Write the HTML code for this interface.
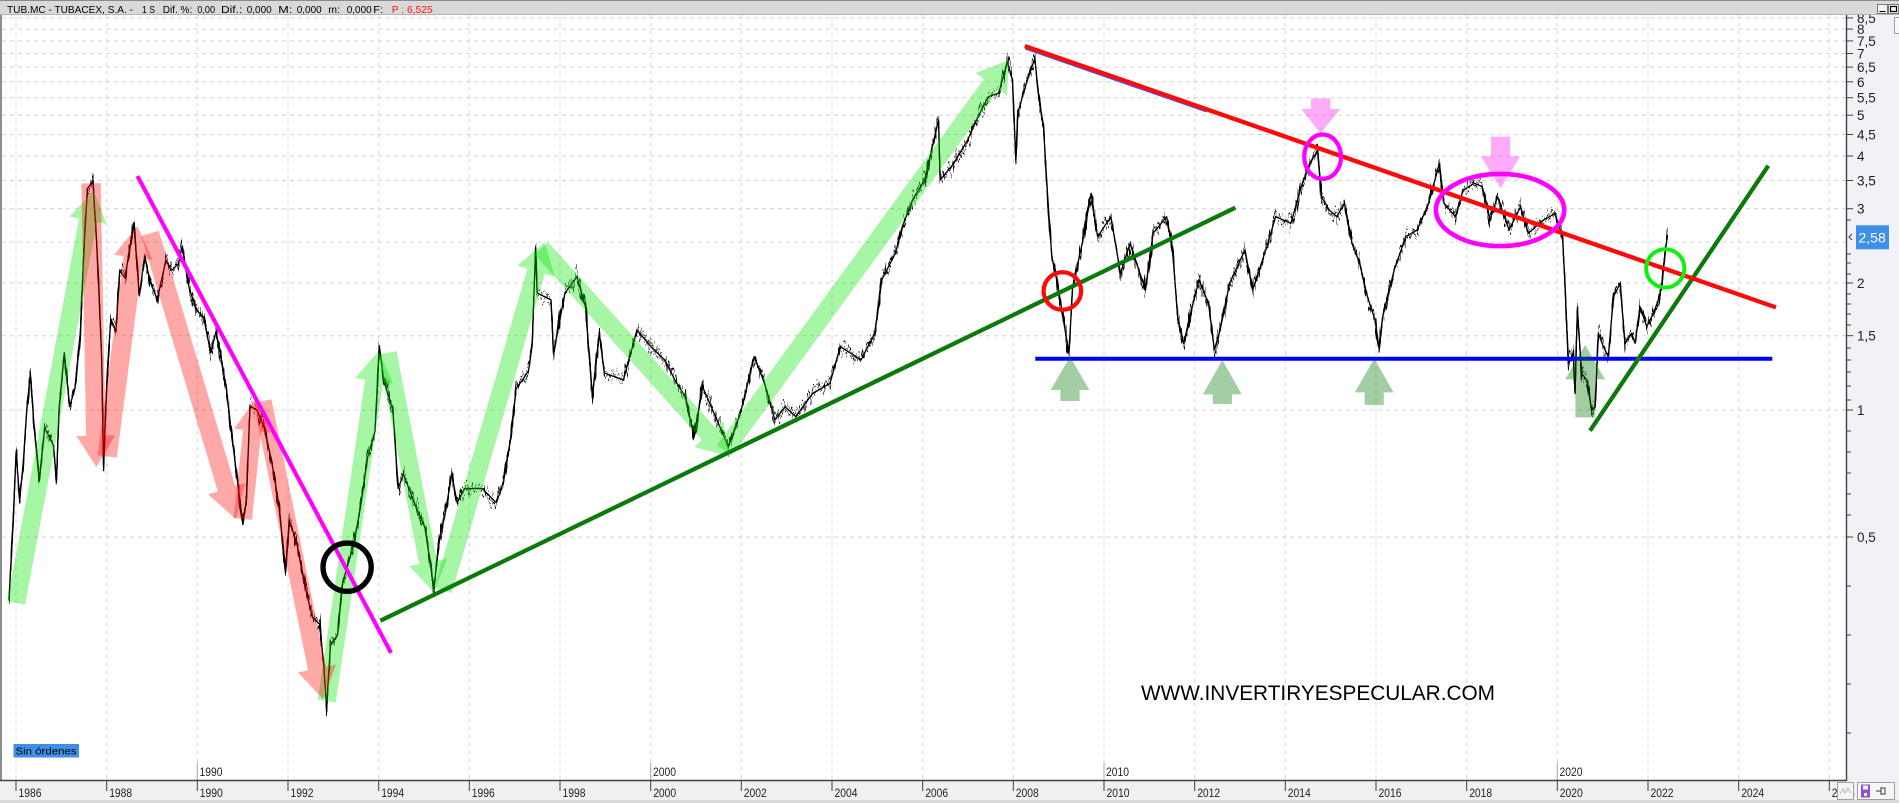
<!DOCTYPE html>
<html><head><meta charset="utf-8"><style>
html,body{margin:0;padding:0;width:1899px;height:803px;overflow:hidden;background:#fff}
svg{display:block}
</style></head><body>
<svg id="root" width="1899" height="803" viewBox="0 0 1899 803" xmlns="http://www.w3.org/2000/svg" xmlns:xlink="http://www.w3.org/1999/xlink" font-family="'Liberation Sans', Arial, sans-serif">
<defs>
<filter id="j1" filterUnits="userSpaceOnUse" x="-10" y="-10" width="1620" height="720" color-interpolation-filters="sRGB">
<feTurbulence type="fractalNoise" baseFrequency="0.45 0.03" numOctaves="2" seed="3" result="n"/>
<feColorMatrix in="n" type="matrix" values="1 0 0 0 0  0 0 0 0 0.5  0 0 0 0 0  0 0 0 0 1" result="m"/>
<feDisplacementMap in="SourceGraphic" in2="m" scale="30" xChannelSelector="G" yChannelSelector="R"/>
</filter>
<filter id="j2" filterUnits="userSpaceOnUse" x="-10" y="-10" width="1620" height="720" color-interpolation-filters="sRGB">
<feTurbulence type="fractalNoise" baseFrequency="0.8 0.05" numOctaves="2" seed="11" result="n"/>
<feColorMatrix in="n" type="matrix" values="1 0 0 0 0  0 0 0 0 0.5  0 0 0 0 0  0 0 0 0 1" result="m"/>
<feDisplacementMap in="SourceGraphic" in2="m" scale="24" xChannelSelector="G" yChannelSelector="R"/>
</filter>
</defs>
<rect x="0" y="0" width="1899" height="803" fill="#ffffff"/>
<rect x="1846" y="14" width="53" height="767" fill="#f1f2f6"/>
<g stroke="#d4d4d4" stroke-width="1" stroke-dasharray="4,4" fill="none">
<line x1="16" y1="15" x2="16" y2="780"/><line x1="106.7" y1="15" x2="106.7" y2="780"/><line x1="197.3" y1="15" x2="197.3" y2="780"/><line x1="288" y1="15" x2="288" y2="780"/><line x1="378.7" y1="15" x2="378.7" y2="780"/><line x1="469.3" y1="15" x2="469.3" y2="780"/><line x1="560" y1="15" x2="560" y2="780"/><line x1="650.7" y1="15" x2="650.7" y2="780"/><line x1="741.3" y1="15" x2="741.3" y2="780"/><line x1="832" y1="15" x2="832" y2="780"/><line x1="922.7" y1="15" x2="922.7" y2="780"/><line x1="1013.3" y1="15" x2="1013.3" y2="780"/><line x1="1104" y1="15" x2="1104" y2="780"/><line x1="1194.7" y1="15" x2="1194.7" y2="780"/><line x1="1285.3" y1="15" x2="1285.3" y2="780"/><line x1="1376" y1="15" x2="1376" y2="780"/><line x1="1466.7" y1="15" x2="1466.7" y2="780"/><line x1="1557.3" y1="15" x2="1557.3" y2="780"/><line x1="1648" y1="15" x2="1648" y2="780"/><line x1="1738.7" y1="15" x2="1738.7" y2="780"/><line x1="1829.3" y1="15" x2="1829.3" y2="780"/>
<line x1="2" y1="17.9" x2="1846" y2="17.9"/><line x1="2" y1="29.1" x2="1846" y2="29.1"/><line x1="2" y1="40.9" x2="1846" y2="40.9"/><line x1="2" y1="53.5" x2="1846" y2="53.5"/><line x1="2" y1="67.1" x2="1846" y2="67.1"/><line x1="2" y1="81.8" x2="1846" y2="81.8"/><line x1="2" y1="97.7" x2="1846" y2="97.7"/><line x1="2" y1="115.2" x2="1846" y2="115.2"/><line x1="2" y1="134.5" x2="1846" y2="134.5"/><line x1="2" y1="156" x2="1846" y2="156"/><line x1="2" y1="180.5" x2="1846" y2="180.5"/><line x1="2" y1="208.7" x2="1846" y2="208.7"/><line x1="2" y1="242.1" x2="1846" y2="242.1"/><line x1="2" y1="283" x2="1846" y2="283"/><line x1="2" y1="335.7" x2="1846" y2="335.7"/><line x1="2" y1="410" x2="1846" y2="410"/><line x1="2" y1="537" x2="1846" y2="537"/>
</g>
<g stroke="#a8a8a8" stroke-width="1">
<line x1="197.3" y1="763" x2="197.3" y2="780"/><line x1="650.7" y1="763" x2="650.7" y2="780"/><line x1="1104" y1="763" x2="1104" y2="780"/><line x1="1557.3" y1="763" x2="1557.3" y2="780"/>
</g>
<g font-size="11.5" fill="#222">
<text x="199.5" y="776" textLength="23" lengthAdjust="spacingAndGlyphs">1990</text>
<text x="653" y="776" textLength="23" lengthAdjust="spacingAndGlyphs">2000</text>
<text x="1106" y="776" textLength="23" lengthAdjust="spacingAndGlyphs">2010</text>
<text x="1559.5" y="776" textLength="23" lengthAdjust="spacingAndGlyphs">2020</text>
</g>

<g transform="scale(1.21110)">
<g fill="none" stroke="#000" stroke-width="1.1" stroke-linejoin="round">
<polyline id="pl" points="7.4,494.8 10.3,441.7 13.3,373.9 16.2,412.3 19.2,382.8 22.1,338.5 25.1,309 28,350.3 32.4,397.5 36.9,353.3 44.2,368 46.6,397.5 48.7,338.5 53.1,291.3 57.5,335.6 61.9,320.8 66.4,273.6 69.3,205.8 72.2,155.7 76.7,149.8 79,185.2 81.1,226.5 84,297.2 85.5,385.7 88.5,309 91.4,264.8 95.8,273.6 98.8,223.5 103.2,229.4 110.6,183.7 115,244.2 119.4,211.7 123.9,232.4 129.8,247.1 137.1,214.7 141.5,223.5 147.4,217.6 150.4,202.9 156.3,238.3 162.2,256 168.1,261.9 174,291.3 178.4,273.6 182.8,297.2 187.3,323.8 190.2,350.3 193.2,373.9 196.1,397.5 200.5,432.9 203.5,412.3 206.4,335.6 212.3,338.5 218.2,353.3 224.1,379.8 230,415.2 235.9,471.2 238.9,430 244.8,447.6 250.7,477.1 253.6,491.9 258,509.6 263.9,515.5 266.9,545 269.8,583.3 272.8,533.2 278.7,524.3 283.1,480 291.9,450.6 297.8,418.1 303.7,376.9 309.6,356.2 313.2,285.4 317,315 324.4,338.5 328.8,403.4 333.2,391.6 342.1,415.2 350.9,435.8 358.3,486 362.7,444.7 367.1,427 373,391.6 377.5,415.2 383.4,403.4 398.1,403.4 409.9,415.2 415.8,397.5 421.7,362.1 426.1,320.8 430.5,315 436.4,306.1 439.4,285.4 442.2,205 443.6,242 455,247.7 457,291.7 466.4,242.2 476.3,228.4 483.4,253.2 489.1,327.5 494.8,275.2 499,308 514.7,313.8 526,272.5 537.4,286.2 548.8,297.2 557.3,313.8 565.9,327.5 573,360.5 580.1,319.3 594.3,352.3 601.4,368.8 611.4,341.3 622.7,294.5 631.3,316.5 639.8,346.8 648.3,335.8 656.9,344 671.1,324.8 685.3,316.5 693.8,286.2 710.9,297.2 722.3,275.2 728,231.2 739.3,209.2 745,187.1 753.5,165.1 763.5,148.6 774.9,99.1 776.3,148.6 787.6,134.8 799,115.6 807.6,96.3 816.1,79.8 824.6,77 831.7,50.9 836,66 838.8,132.1 840.3,93.6 847.4,68.8 854.5,48.1 857.3,77 861.6,104.6 865.5,170 868.5,212 873.1,234 882.6,291.8 885.7,236.7 893.6,201 900.9,159.6 906.3,195.4 917.3,179 925.2,225.7 933.1,201 945.8,239.5 952.1,192.7 963.2,178.9 967.9,203.7 972.6,264.2 977.4,283.5 983.7,256 990,231.2 997.9,250.5 1002.7,289 1007.4,272.5 1015.3,234 1027.9,206.4 1034.3,239.5 1046.9,201 1053.2,178.9 1065.9,184.4 1075.3,151.4 1081.7,134.9 1088,123.9 1091.1,162.4 1097.5,173.4 1103.8,178.9 1110.1,167.9 1116.4,201 1122.7,217.5 1129.1,245 1135.4,264.2 1138.5,286.3 1141.7,261.5 1151.2,223 1160.7,195.4 1170.1,189.9 1179.6,167.9 1188.5,134.9 1192.3,167.9 1201.8,178.9 1208.1,156.9 1217.5,151.4 1223.9,154.1 1230.2,181.7 1236.5,162.4 1246,189.9 1255.5,170.7 1261.8,192.7 1274.4,181.7 1283.9,176.2 1290.2,195.4 1292.3,236.7 1293.6,269.7 1295,300 1299.1,291.8 1300.5,324.8 1302.4,256 1306,308.3 1310.2,313.8 1314.3,338.6 1317,335.8 1319.8,275.2 1323.9,286.3 1328,294.5 1332.2,245 1337.7,234 1341.8,283.5 1347.3,275.2 1350.1,283.5 1354.2,253.3 1359.7,269.7 1365.2,258.7 1369.3,247.7 1372.1,236.7 1374.8,209.2 1376.8,194"/>
</g>
<use href="#pl" xlink:href="#pl" fill="none" stroke="#000" stroke-width="0.9" filter="url(#j1)"/>
<use href="#pl" xlink:href="#pl" fill="none" stroke="#000" stroke-width="0.9" filter="url(#j2)"/>

<line x1="854.8" y1="296.2" x2="1463.4" y2="296.2" stroke="#0000ff" stroke-width="3.3"/>
<line x1="846.5" y1="40.4" x2="996" y2="92.4" stroke="#3050ff" stroke-width="0.9"/>

<g fill="rgb(0,230,0)" fill-opacity="0.35">
<polygon points="20.7,499.2 80.1,183.2 87.9,184.7 77.3,157.2 57.5,178.9 65.3,180.4 5.9,496.4"/>
<polygon points="277.2,580 316.3,315.7 324.7,316.9 312.6,289.9 293.1,312.3 301.5,313.5 262.4,577.8"/>
<polygon points="312.6,292.7 346.1,465.8 337.8,467.4 358.3,488.9 369.2,461.4 360.9,463 327.4,289.9"/>
<polygon points="372.9,489.6 449.9,226 458.1,228.4 449.7,199.9 427.3,219.4 435.5,221.8 358.5,485.4"/>
<polygon points="441.4,210 579.7,363.4 573.4,369.1 602,377 597.2,347.7 590.9,353.4 452.6,200"/>
<polygon points="604.1,376.4 824.6,74.1 831.4,79.1 833.2,49.5 805.6,60.3 812.4,65.3 591.9,367.6"/>
</g>
<g fill="rgb(255,0,0)" fill-opacity="0.34">
<polygon points="67.2,151.5 71.1,359.9 63.1,360 79.6,385.7 95.1,359.4 87.1,359.6 83.2,151.2"/>
<polygon points="96.4,377.9 118,213.5 126,214.6 113.5,186.7 94.2,210.4 102.2,211.5 80.6,375.9"/>
<polygon points="116.7,194.8 179.9,405.8 171.8,408.2 194.6,428.5 202.4,399 194.3,401.5 131.1,190.5"/>
<polygon points="208,429.3 215.7,356.4 223.1,357.2 210.9,329.7 193.3,354 200.7,354.8 193,427.7"/>
<polygon points="209.4,332.7 254.4,553.5 246,555.2 266.9,577.4 277.4,548.8 269.1,550.5 224.1,329.7"/>
</g>
<g fill="rgb(0,120,0)" fill-opacity="0.36">
<polygon points="875.6,331.1 875.6,322 867.5,322 883.5,294.5 899.5,322 891.4,322 891.4,331.1"/>
<polygon points="1001.4,333.6 1001.4,325.6 993.3,325.6 1009.3,297.3 1025.3,325.6 1017.2,325.6 1017.2,333.6"/>
<polygon points="1126.8,334.4 1126.8,324 1118.7,324 1134.7,296 1150.7,324 1142.6,324 1142.6,334.4"/>
<polygon points="1300.8,344.6 1300.8,313.2 1292.4,313.2 1308.9,284.9 1325.4,313.2 1317,313.2 1317,344.6"/>
</g>
<g fill="rgb(255,0,240)" fill-opacity="0.33">
<polygon points="1082.6,81.2 1082.6,90 1074.3,90 1090.5,110 1106.7,90 1098.4,90 1098.4,81.2"/>
<polygon points="1231.1,112.9 1231.1,129 1222.8,129 1239,155.5 1255.2,129 1246.9,129 1246.9,112.9"/>
</g>

<line x1="113.5" y1="145.4" x2="322.9" y2="539.1" stroke="#ff00ff" stroke-width="3.4"/>
<line x1="314.1" y1="512.5" x2="1020" y2="171.5" stroke="#0b7a0b" stroke-width="3.5"/>
<line x1="1312.9" y1="355.6" x2="1460.1" y2="136.8" stroke="#0b7a0b" stroke-width="3.5"/>
<line x1="846.2" y1="38" x2="1466.4" y2="253.8" stroke="#ff0a0a" stroke-width="3.6"/>

<g fill="none">
<circle cx="286.6" cy="468.3" r="19.9" stroke="#000" stroke-width="4.4"/>
<circle cx="877.2" cy="240.3" r="15.5" stroke="#ff0a0a" stroke-width="3.5"/>
<ellipse cx="1092.1" cy="129.4" rx="15.2" ry="18.3" stroke="#ff00ff" stroke-width="3.5"/>
<ellipse cx="1238.6" cy="173.4" rx="53" ry="29.8" stroke="#ff00ff" stroke-width="3.8"/>
<circle cx="1375" cy="221.6" r="15.8" stroke="#12ee12" stroke-width="3.3"/>
</g>
</g>

<text x="1141" y="700" font-size="20.8" fill="#000" textLength="354" lengthAdjust="spacingAndGlyphs">WWW.INVERTIRYESPECULAR.COM</text>

<rect x="13.5" y="744" width="65.5" height="13.5" fill="#3d8fe8"/>
<text x="15.5" y="754.5" font-size="10" fill="#000" textLength="61" lengthAdjust="spacingAndGlyphs">Sin órdenes</text>

<rect x="0" y="14" width="2" height="767" fill="#8c8c8c"/>

<line x1="1846.5" y1="14" x2="1846.5" y2="781" stroke="#404040" stroke-width="1.4"/>
<g stroke="#404040" stroke-width="1">
<line x1="1846" y1="17.9" x2="1853" y2="17.9"/><line x1="1846" y1="29.1" x2="1853" y2="29.1"/><line x1="1846" y1="40.9" x2="1853" y2="40.9"/><line x1="1846" y1="53.5" x2="1853" y2="53.5"/><line x1="1846" y1="67.1" x2="1853" y2="67.1"/><line x1="1846" y1="81.8" x2="1853" y2="81.8"/><line x1="1846" y1="97.7" x2="1853" y2="97.7"/><line x1="1846" y1="115.2" x2="1853" y2="115.2"/><line x1="1846" y1="134.5" x2="1853" y2="134.5"/><line x1="1846" y1="156" x2="1853" y2="156"/><line x1="1846" y1="180.5" x2="1853" y2="180.5"/><line x1="1846" y1="208.7" x2="1853" y2="208.7"/><line x1="1846" y1="283" x2="1853" y2="283"/><line x1="1846" y1="335.7" x2="1853" y2="335.7"/><line x1="1846" y1="410" x2="1853" y2="410"/><line x1="1846" y1="537" x2="1853" y2="537"/>
<line x1="1846" y1="220" x2="1851" y2="220"/><line x1="1846" y1="254" x2="1851" y2="254"/><line x1="1846" y1="263" x2="1851" y2="263"/><line x1="1846" y1="274" x2="1851" y2="274"/><line x1="1846" y1="294" x2="1851" y2="294"/><line x1="1846" y1="304" x2="1851" y2="304"/><line x1="1846" y1="314" x2="1851" y2="314"/><line x1="1846" y1="325" x2="1851" y2="325"/><line x1="1846" y1="348" x2="1851" y2="348"/><line x1="1846" y1="360" x2="1851" y2="360"/><line x1="1846" y1="372" x2="1851" y2="372"/><line x1="1846" y1="386" x2="1851" y2="386"/><line x1="1846" y1="400" x2="1851" y2="400"/><line x1="1846" y1="431" x2="1851" y2="431"/><line x1="1846" y1="452" x2="1851" y2="452"/><line x1="1846" y1="473" x2="1851" y2="473"/><line x1="1846" y1="494" x2="1851" y2="494"/><line x1="1846" y1="515" x2="1851" y2="515"/><line x1="1846" y1="586" x2="1851" y2="586"/><line x1="1846" y1="635" x2="1851" y2="635"/><line x1="1846" y1="684" x2="1851" y2="684"/><line x1="1846" y1="733" x2="1851" y2="733"/>
</g>
<g font-size="13.5" fill="#1c1c2c">
<text x="1857" y="22.9">8,5</text><text x="1857" y="34.1">8</text><text x="1857" y="45.9">7,5</text><text x="1857" y="58.5">7</text><text x="1857" y="72.1">6,5</text><text x="1857" y="86.8">6</text><text x="1857" y="102.7">5,5</text><text x="1857" y="120.2">5</text><text x="1857" y="139.5">4,5</text><text x="1857" y="161">4</text><text x="1857" y="185.5">3,5</text><text x="1857" y="213.7">3</text><text x="1857" y="288">2</text><text x="1857" y="340.7">1,5</text><text x="1857" y="415">1</text><text x="1857" y="542">0,5</text>
</g>
<path d="M1852,234 L1849,237 L1852,240" fill="none" stroke="#404040" stroke-width="1"/>
<rect x="1856" y="225.3" width="33" height="24" fill="#3d8fe8"/>
<text x="1858.5" y="242.5" font-size="14" fill="#ffffff">2,58</text>

<rect x="0" y="781" width="1899" height="19" fill="#f0f0f0"/>
<rect x="0" y="800" width="1899" height="3" fill="#d9d9d9"/>
<line x1="0" y1="780.5" x2="1846" y2="780.5" stroke="#404040" stroke-width="1.6"/>
<g stroke="#404040" stroke-width="1">
<line x1="16" y1="780" x2="16" y2="791"/><line x1="106.7" y1="780" x2="106.7" y2="791"/><line x1="197.3" y1="780" x2="197.3" y2="791"/><line x1="288" y1="780" x2="288" y2="791"/><line x1="378.7" y1="780" x2="378.7" y2="791"/><line x1="469.3" y1="780" x2="469.3" y2="791"/><line x1="560" y1="780" x2="560" y2="791"/><line x1="650.7" y1="780" x2="650.7" y2="791"/><line x1="741.3" y1="780" x2="741.3" y2="791"/><line x1="832" y1="780" x2="832" y2="791"/><line x1="922.7" y1="780" x2="922.7" y2="791"/><line x1="1013.3" y1="780" x2="1013.3" y2="791"/><line x1="1104" y1="780" x2="1104" y2="791"/><line x1="1194.7" y1="780" x2="1194.7" y2="791"/><line x1="1285.3" y1="780" x2="1285.3" y2="791"/><line x1="1376" y1="780" x2="1376" y2="791"/><line x1="1466.7" y1="780" x2="1466.7" y2="791"/><line x1="1557.3" y1="780" x2="1557.3" y2="791"/><line x1="1648" y1="780" x2="1648" y2="791"/><line x1="1738.7" y1="780" x2="1738.7" y2="791"/><line x1="1829.3" y1="780" x2="1829.3" y2="791"/>
</g>
<g font-size="11.5" fill="#222">
<text x="18.5" y="797" textLength="23" lengthAdjust="spacingAndGlyphs">1986</text>
<text x="109.2" y="797" textLength="23" lengthAdjust="spacingAndGlyphs">1988</text>
<text x="199.8" y="797" textLength="23" lengthAdjust="spacingAndGlyphs">1990</text>
<text x="290.5" y="797" textLength="23" lengthAdjust="spacingAndGlyphs">1992</text>
<text x="381.2" y="797" textLength="23" lengthAdjust="spacingAndGlyphs">1994</text>
<text x="471.8" y="797" textLength="23" lengthAdjust="spacingAndGlyphs">1996</text>
<text x="562.5" y="797" textLength="23" lengthAdjust="spacingAndGlyphs">1998</text>
<text x="653.2" y="797" textLength="23" lengthAdjust="spacingAndGlyphs">2000</text>
<text x="743.8" y="797" textLength="23" lengthAdjust="spacingAndGlyphs">2002</text>
<text x="834.5" y="797" textLength="23" lengthAdjust="spacingAndGlyphs">2004</text>
<text x="925.2" y="797" textLength="23" lengthAdjust="spacingAndGlyphs">2006</text>
<text x="1015.8" y="797" textLength="23" lengthAdjust="spacingAndGlyphs">2008</text>
<text x="1106.5" y="797" textLength="23" lengthAdjust="spacingAndGlyphs">2010</text>
<text x="1197.2" y="797" textLength="23" lengthAdjust="spacingAndGlyphs">2012</text>
<text x="1287.8" y="797" textLength="23" lengthAdjust="spacingAndGlyphs">2014</text>
<text x="1378.5" y="797" textLength="23" lengthAdjust="spacingAndGlyphs">2016</text>
<text x="1469.2" y="797" textLength="23" lengthAdjust="spacingAndGlyphs">2018</text>
<text x="1559.8" y="797" textLength="23" lengthAdjust="spacingAndGlyphs">2020</text>
<text x="1650.5" y="797" textLength="23" lengthAdjust="spacingAndGlyphs">2022</text>
<text x="1741.2" y="797" textLength="23" lengthAdjust="spacingAndGlyphs">2024</text>
<text x="1831.8" y="797" textLength="23" lengthAdjust="spacingAndGlyphs">2026</text>
</g>
<rect x="1837.5" y="782.5" width="16" height="17" fill="#f6f6f6" stroke="#a0a0a0" stroke-width="1"/>
<path d="M1840,794 l3,-5 l2,4 l3,-5 l3,5" fill="none" stroke="#b8b8b8" stroke-width="1"/>
<rect x="1857.5" y="782.5" width="37" height="17" fill="#f6f6f6" stroke="#a0a0a0" stroke-width="1"/>
<rect x="1861" y="784.5" width="9" height="13" fill="#8a55c8"/>
<rect x="1863" y="785.5" width="5" height="4" fill="#f6f6f6"/>
<rect x="1864" y="793" width="3" height="3" fill="#f6f6f6"/>
<path d="M1876,791 h5 M1881,787 v8 M1881,788 h4 v6 h-4" fill="none" stroke="#404040" stroke-width="1"/>

<rect x="0" y="0" width="1899" height="14.5" fill="#d9d9d9"/>
<line x1="0" y1="0.5" x2="1899" y2="0.5" stroke="#8a8a8a" stroke-width="1"/>
<line x1="0" y1="14.5" x2="1899" y2="14.5" stroke="#b4b4b4" stroke-width="1"/>
<g font-size="10.5" fill="#000">
<text x="7" y="12.8" textLength="126" lengthAdjust="spacingAndGlyphs">TUB.MC - TUBACEX, S.A. -</text>
<text x="142" y="12.8" textLength="13" lengthAdjust="spacingAndGlyphs">1 S</text>
<text x="162.7" y="12.8" textLength="29.6" lengthAdjust="spacingAndGlyphs">Dif. %:</text>
<text x="197.3" y="12.8" textLength="17.7" lengthAdjust="spacingAndGlyphs">0,00</text>
<text x="221" y="12.8" textLength="21.3" lengthAdjust="spacingAndGlyphs">Dif.:</text>
<text x="246.7" y="12.8" textLength="25" lengthAdjust="spacingAndGlyphs">0,000</text>
<text x="278.3" y="12.8" textLength="14" lengthAdjust="spacingAndGlyphs">M:</text>
<text x="296.7" y="12.8" textLength="25" lengthAdjust="spacingAndGlyphs">0,000</text>
<text x="328.3" y="12.8" textLength="11.7" lengthAdjust="spacingAndGlyphs">m:</text>
<text x="346.7" y="12.8" textLength="25" lengthAdjust="spacingAndGlyphs">0,000</text>
<text x="373.3" y="12.8" textLength="10" lengthAdjust="spacingAndGlyphs">F:</text>
<text x="391.7" y="12.8" textLength="41" lengthAdjust="spacingAndGlyphs" fill="#ff1010">P : 6,525</text>
</g>
<rect x="1877.5" y="4.5" width="10" height="9" fill="#f4f4f4" stroke="#7a7a7a" stroke-width="1"/>
<line x1="1879.5" y1="11.5" x2="1885.5" y2="11.5" stroke="#000" stroke-width="1"/>
<rect x="1888.5" y="4.5" width="10" height="9" fill="#f4f4f4" stroke="#7a7a7a" stroke-width="1"/>
<rect x="1890.5" y="6.5" width="6" height="5" fill="none" stroke="#000" stroke-width="1.2"/>
<rect x="1894.5" y="17.5" width="6" height="16" fill="#f8f8f8" stroke="#a0a0a0" stroke-width="1"/>
</svg>
</body></html>
